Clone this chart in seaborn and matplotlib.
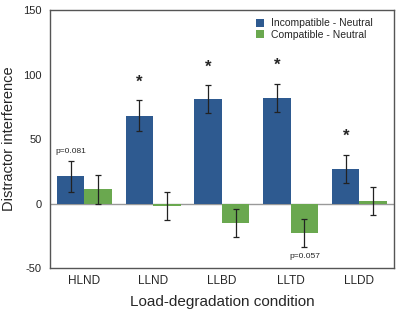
import matplotlib
matplotlib.use("Agg")
import matplotlib.pyplot as plt
import seaborn as sns
import pandas as pd

conditions = ["HLND", "LLND", "LLBD", "LLTD", "LLDD"]
incompatible = [21, 68, 81, 82, 27]
incompatible_err = [12, 12, 11, 11, 11]
compatible = [11, -2, -15, -23, 2]
compatible_err = [11, 11, 11, 11, 11]
series_names = ["Incompatible - Neutral", "Compatible - Neutral"]
colors = ["#2E5A90", "#6AA84F"]
stars = ["", "*", "*", "*", "*"]

sns.set_theme(style="white")
plt.rcParams["font.family"] = ["Liberation Sans", "DejaVu Sans"]
plt.rcParams["axes.unicode_minus"] = False

df = pd.DataFrame({
    "condition": conditions * 2,
    "value": incompatible + compatible,
    "series": [series_names[0]] * 5 + [series_names[1]] * 5,
})

fig, ax = plt.subplots(figsize=(3.97, 3.15), dpi=100)
fig.subplots_adjust(left=0.126, right=0.992, top=0.968, bottom=0.149)

sns.barplot(data=df, x="condition", y="value", hue="series", order=conditions,
            hue_order=series_names, palette=colors, errorbar=None,
            width=0.8, ax=ax, saturation=1, linewidth=0, zorder=2)

patches = [p for p in ax.patches if p.get_width() > 0]
n = len(conditions)
errs = incompatible_err + compatible_err
vals = incompatible + compatible
for i, p in enumerate(patches[:2 * n]):
    cx = p.get_x() + p.get_width() / 2
    ax.errorbar(cx, vals[i], yerr=errs[i], color="#222222", capsize=2.5,
                elinewidth=0.9, capthick=0.9, zorder=3)

for i in range(n):
    if stars[i]:
        p = patches[i]
        cx = p.get_x() + p.get_width() / 2
        ax.text(cx, incompatible[i] + incompatible_err[i] + 14, stars[i],
                ha="center", va="center", fontsize=12, fontweight="bold")

ax.text(patches[0].get_x() + patches[0].get_width() / 2, 40, "p=0.081",
        ha="center", va="center", fontsize=6)
p = patches[n + 3]
ax.text(p.get_x() + p.get_width() / 2, -41, "p=0.057",
        ha="center", va="center", fontsize=6)

ax.axhline(0, color="#999999", linewidth=1, zorder=1)
ax.set_ylim(-50, 150)
ax.set_xlim(-0.5, 4.5)
ax.set_yticks([-50, 0, 50, 100, 150])
ax.tick_params(axis="y", length=0, labelsize=8, pad=6)
ax.tick_params(axis="x", length=0, labelsize=8.5, pad=5)
for s in ax.spines.values():
    s.set_color("#555555")
    s.set_linewidth(1)
ax.set_xlabel("Load-degradation condition", fontsize=11, labelpad=6)
ax.set_ylabel("Distractor interference", fontsize=10.5, labelpad=5)

leg = ax.legend(loc="upper right", frameon=False, fontsize=7.5,
                handlelength=0.8, handleheight=0.8, handletextpad=0.6,
                labelspacing=0.15, borderaxespad=0.4,
                bbox_to_anchor=(0.962, 1.0))

fig.savefig("out.png", dpi=100)
